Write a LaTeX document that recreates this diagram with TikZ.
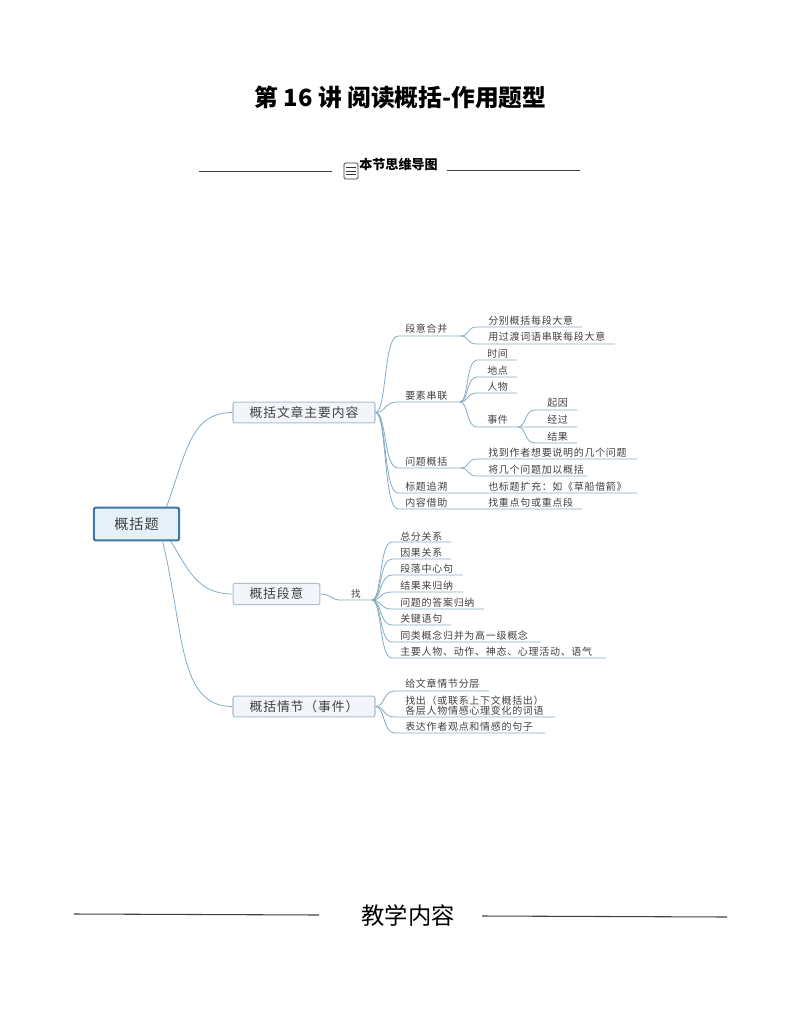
\documentclass[tikz,border=0pt]{standalone}
\usepackage{fontspec}
\usetikzlibrary{calc}
\newfontfamily\plainfont{Noto Sans CJK SC}
\newfontfamily\spacedfont[LetterSpace=7]{Noto Sans CJK SC}
\definecolor{linkc}{HTML}{86AAC2}
\definecolor{inkc}{HTML}{404040}
\definecolor{topc}{HTML}{A9C0D0}
\definecolor{topf}{HTML}{F2F6FA}
\definecolor{rootc}{HTML}{3F78A6}
\definecolor{rootf}{HTML}{E6F0F9}
\tikzset{
  x=0.75pt,y=-0.75pt,
  linkline/.style={draw=linkc,line width=0.6pt},
  rule/.style={draw=black!75,line width=0.6pt},
  leaf/.style={anchor=west,inner sep=0pt,text=inkc,font=\spacedfont\fontsize{7.5pt}{7.6pt}\selectfont,align=left},
  topic/.style={draw=topc,fill=topf,line width=0.8pt,rounded corners=1.5pt,text=inkc,inner sep=0pt,font=\spacedfont\fontsize{9.6pt}{12pt}\selectfont},
  rootbox/.style={draw=rootc,fill=rootf,line width=1.6pt,rounded corners=1.5pt,text=inkc,inner sep=0pt,font=\spacedfont\fontsize{10.6pt}{12pt}\selectfont},
}
% hub, start of the underline, end of the underline
\newcommand\lnk[3]{\draw[linkline] (#1) .. controls ($(#1)!.5!(#2 |- #1)$) and ($(#2 -| #1)!.35!(#2)$) .. (#2) -- (#3);}
\begin{document}
\begin{tikzpicture}
\useasboundingbox (0,0) rectangle (794,1028);
% headings
\node[inner sep=0pt,font=\plainfont\bfseries\fontsize{17.8pt}{22pt}\selectfont] (title) at (400.5,97) {第 16 讲 阅读概括-作用题型};
\coordinate (sl1) at (199,171); \coordinate (sl2) at (332,171);
\coordinate (sr1) at (447,170); \coordinate (sr2) at (580,170);
\draw[rule] (sl1) -- (sl2);
\draw[rule] (sr1) -- (sr2);
\node[inner sep=0pt,font=\plainfont\bfseries\fontsize{9.8pt}{11pt}\selectfont] (sub) at (398.5,165) {本节思维导图};
\node[draw=black!80,fill=white,rounded corners=1pt,line width=0.6pt,minimum width=10.5pt,minimum height=12pt,inner sep=0pt] (icon) at (351,171) {};
\foreach \k in {-3.5,0,3.5} \draw[black!80,line width=0.5pt] ($(icon.center)+(-5,\k)$) -- ($(icon.center)+(5,\k)$);
\coordinate (bl1) at (74,914); \coordinate (bl2) at (319,915);
\coordinate (br1) at (482,916); \coordinate (br2) at (727,917);
\draw[rule,line width=0.8pt] (bl1) -- (bl2);
\draw[rule,line width=0.8pt] (br1) -- (br2);
\node[inner sep=0pt,font=\plainfont\fontsize{17.5pt}{20pt}\selectfont] (teach) at (408,916) {教学内容};
% topics
\node[rootbox,minimum width=64pt,minimum height=24.5pt] (root) at (136.5,524) {概括题};
\node[topic,minimum width=106.5pt,minimum height=15.5pt] (A) at (304,412.5) {概括文章主要内容};
\node[topic,minimum width=65pt,minimum height=16pt] (B) at (276.5,594) {概括段意};
\node[topic,minimum width=106.5pt,minimum height=15.5pt] (C) at (304,706.5) {概括情节（事件）};
% root links
\coordinate (r1) at ($(root.center)+(30,-17)$);
\coordinate (r2) at ($(root.center)+(34,17)$);
\coordinate (r3) at ($(root.center)+(26,17)$);
\draw[linkline] (r1) .. controls +(20,-55) and +(-42,0) .. (A.west);
\draw[linkline] (r2) .. controls +(18,28) and +(-36,0) .. (B.west);
\draw[linkline] (r3) .. controls +(22,90) and +(-55,0) .. (C.west);
% branch A
\coordinate (hA) at (A.east);
\coordinate (a1s) at (398,336); \coordinate (a1e) at (461,336);
\coordinate (a2s) at (398,402); \coordinate (a2e) at (460,402);
\coordinate (a3s) at (398,468); \coordinate (a3e) at (461,468);
\coordinate (a4s) at (398,493); \coordinate (a4e) at (637,493);
\coordinate (a5s) at (398,509); \coordinate (a5e) at (582,509);
\lnk{hA}{a1s}{a1e}\lnk{hA}{a2s}{a2e}\lnk{hA}{a3s}{a3e}\lnk{hA}{a4s}{a4e}\lnk{hA}{a5s}{a5e}
\node[leaf] (ta1) at (405,329) {段意合并};
\node[leaf] (ta2) at (405,396) {要素串联};
\node[leaf] (ta3) at (405,462) {问题概括};
\node[leaf] (ta4) at (405,487) {标题追溯};
\node[leaf] (ta5) at (405,503) {内容借助};
\node[leaf] (ta41) at (488,487) {也标题扩充：如《草船借箭》};
\node[leaf] (ta51) at (488,503) {找重点句或重点段};
% sub branch a1
\coordinate (b1s) at (477,327); \coordinate (b1e) at (582,327);
\coordinate (b2s) at (477,344); \coordinate (b2e) at (615,344);
\lnk{a1e}{b1s}{b1e}\lnk{a1e}{b2s}{b2e}
\node[leaf] (tb1) at (488,321) {分别概括每段大意};
\node[leaf] (tb2) at (488,337) {用过渡词语串联每段大意};
% sub branch a2
\coordinate (c1s) at (477,360); \coordinate (c1e) at (517,360);
\coordinate (c2s) at (477,377); \coordinate (c2e) at (517,377);
\coordinate (c3s) at (477,393); \coordinate (c3e) at (517,393);
\coordinate (c4s) at (477,427); \coordinate (c4e) at (518,427);
\lnk{a2e}{c1s}{c1e}\lnk{a2e}{c2s}{c2e}\lnk{a2e}{c3s}{c3e}\lnk{a2e}{c4s}{c4e}
\node[leaf] (tc1) at (487,354) {时间};
\node[leaf] (tc2) at (487,371) {地点};
\node[leaf] (tc3) at (487,387) {人物};
\node[leaf] (tc4) at (487,420) {事件};
% sub branch event
\coordinate (d1s) at (535,410); \coordinate (d1e) at (577,410);
\coordinate (d2s) at (535,427); \coordinate (d2e) at (577,427);
\coordinate (d3s) at (535,443); \coordinate (d3e) at (577,443);
\lnk{c4e}{d1s}{d1e}\lnk{c4e}{d2s}{d2e}\lnk{c4e}{d3s}{d3e}
\node[leaf] (td1) at (547,403) {起因};
\node[leaf] (td2) at (547,420) {经过};
\node[leaf] (td3) at (547,437) {结果};
% sub branch a3
\coordinate (e1s) at (477,459); \coordinate (e1e) at (637,459);
\coordinate (e2s) at (477,476); \coordinate (e2e) at (587,476);
\lnk{a3e}{e1s}{e1e}\lnk{a3e}{e2s}{e2e}
\node[leaf] (te1) at (488,453) {找到作者想要说明的几个问题};
\node[leaf] (te2) at (488,470) {将几个问题加以概括};
% branch B
\coordinate (fnd) at (340,600); \coordinate (hB) at (372,600);
\draw[linkline] (B.east) .. controls +(10,0) and +(-8,0) .. (fnd) -- (hB);
\node[inner sep=0pt,text=inkc,font=\plainfont\fontsize{7.2pt}{8pt}\selectfont] (tfind) at (356,594) {找};
\coordinate (f1s) at (392,542); \coordinate (f1e) at (451,542);
\coordinate (f2s) at (392,559); \coordinate (f2e) at (451,559);
\coordinate (f3s) at (392,575); \coordinate (f3e) at (463,575);
\coordinate (f4s) at (392,592); \coordinate (f4e) at (463,592);
\coordinate (f5s) at (392,609); \coordinate (f5e) at (484,609);
\coordinate (f6s) at (392,625); \coordinate (f6e) at (451,625);
\coordinate (f7s) at (392,642); \coordinate (f7e) at (540,642);
\coordinate (f8s) at (392,658); \coordinate (f8e) at (606,658);
\lnk{hB}{f1s}{f1e}\lnk{hB}{f2s}{f2e}\lnk{hB}{f3s}{f3e}\lnk{hB}{f4s}{f4e}\lnk{hB}{f5s}{f5e}\lnk{hB}{f6s}{f6e}\lnk{hB}{f7s}{f7e}\lnk{hB}{f8s}{f8e}
\node[leaf] (tf1) at (400,537) {总分关系};
\node[leaf] (tf2) at (400,553) {因果关系};
\node[leaf] (tf3) at (400,569) {段落中心句};
\node[leaf] (tf4) at (400,586) {结果来归纳};
\node[leaf] (tf5) at (400,603) {问题的答案归纳};
\node[leaf] (tf6) at (400,619) {关键语句};
\node[leaf] (tf7) at (400,636) {同类概念归并为高一级概念};
\node[leaf] (tf8) at (400,652) {主要人物、动作、神态、心理活动、语气};
% branch C
\coordinate (hC) at (C.east);
\coordinate (g1s) at (395,691); \coordinate (g1e) at (489,691);
\coordinate (g2s) at (395,717); \coordinate (g2e) at (555,717);
\coordinate (g3s) at (395,733); \coordinate (g3e) at (545,733);
\lnk{hC}{g1s}{g1e}\lnk{hC}{g2s}{g2e}\lnk{hC}{g3s}{g3e}
\node[leaf] (tg1) at (405,684) {给文章情节分层};
\node[leaf] (tg2) at (405,706) {找出（或联系上下文概括出）\\各层人物情感心理变化的词语};
\node[leaf] (tg3) at (405,727) {表达作者观点和情感的句子};
\end{tikzpicture}
\end{document}
